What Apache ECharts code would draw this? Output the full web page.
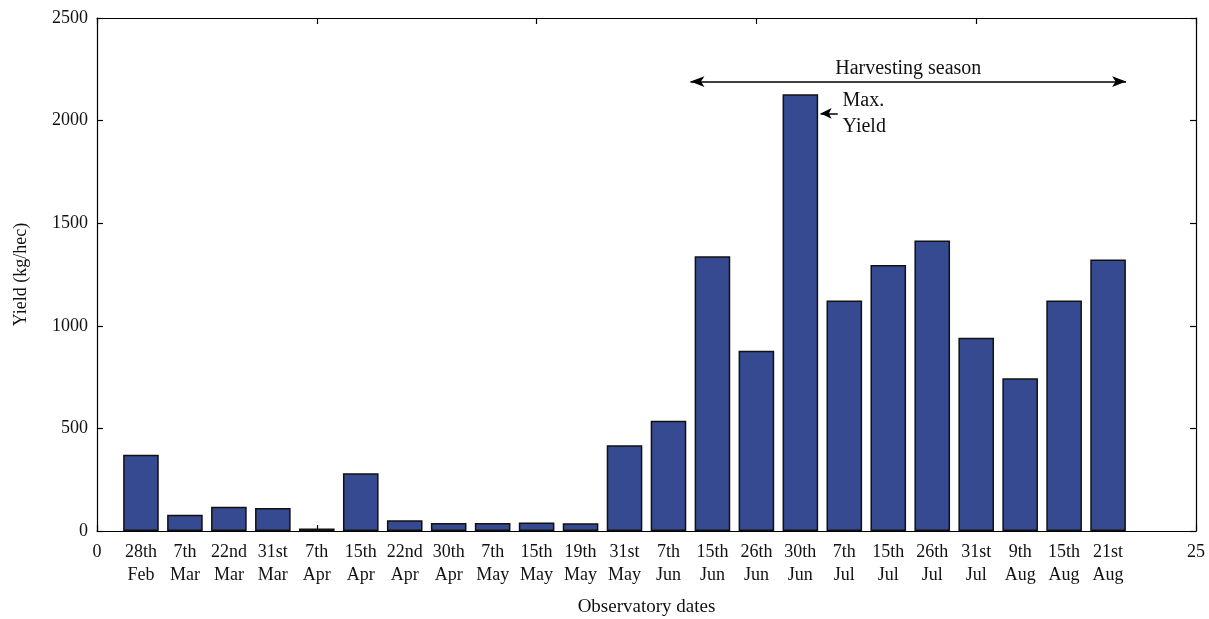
<!DOCTYPE html>
<html>
<head>
<meta charset="utf-8">
<script src="https://cdn.jsdelivr.net/npm/echarts@6/dist/echarts.min.js"></script>
<style>html,body{margin:0;padding:0;background:#fff;}#c{width:1209px;height:619px;}</style>
</head>
<body>
<div id="c"></div>
<script>
const categories = ["28th\nFeb","7th\nMar","22nd\nMar","31st\nMar","7th\nApr","15th\nApr","22nd\nApr","30th\nApr","7th\nMay","15th\nMay","19th\nMay","31st\nMay","7th\nJun","15th\nJun","26th\nJun","30th\nJun","7th\nJul","15th\nJul","26th\nJul","31st\nJul","9th\nAug","15th\nAug","21st\nAug"];
const yieldValues = [372, 79, 118, 112, 12, 281, 52, 39, 39, 42, 38, 418, 537, 1339, 878, 2128, 1123, 1296, 1416, 942, 745, 1123, 1323];
const xTickValues = [0, 5, 10, 15, 20, 25];
const yTickValues = [0, 500, 1000, 1500, 2000, 2500];
const harvestStart = 13.5, harvestEnd = 23.41, harvestY = 2190;
const maxArrowFrom = 16.85, maxArrowTo = 16.46, maxArrowY = 2035;

const FONT = "Liberation Serif";
const barData = yieldValues.map((v, i) => [i + 1, v]);
const labelValues = [0].concat(categories.map((c, i) => i + 1)).concat([25]);
function xLabel(v) {
  if (v === 0 || v === 25) return String(v);
  return categories[v - 1] || "";
}
const chart = echarts.init(document.getElementById('c'), null, {renderer: 'canvas'});
const axisLine = {show: true, onZero: false, lineStyle: {color: '#000', width: 1.2}};
const tickStyle = {color: '#000', width: 1.2};
chart.setOption({
  animation: false,
  grid: {left: 97, right: 13, top: 18, bottom: 88, containLabel: false, outerBoundsMode: 'none'},
  xAxis: [{
    type: 'value', min: 0, max: 25, interval: 1, position: 'bottom',
    axisLine: axisLine,
    axisTick: {show: true, inside: true, length: 6, customValues: xTickValues, lineStyle: tickStyle},
    axisLabel: {customValues: labelValues, formatter: xLabel, color: '#111', fontFamily: FONT, fontSize: 18, lineHeight: 23, margin: 10},
    splitLine: {show: false},
    name: 'Observatory dates', nameLocation: 'middle', nameGap: 67,
    nameTextStyle: {fontFamily: FONT, fontSize: 19, color: '#111'}
  }, {
    type: 'value', min: 0, max: 25, interval: 1, position: 'top',
    axisLine: axisLine,
    axisTick: {show: true, inside: true, length: 6, customValues: xTickValues, lineStyle: tickStyle},
    axisLabel: {show: false}, splitLine: {show: false}
  }],
  yAxis: [{
    type: 'value', min: 0, max: 2500, interval: 500, position: 'left',
    axisLine: axisLine,
    axisTick: {show: true, inside: true, length: 6, customValues: yTickValues, lineStyle: tickStyle},
    axisLabel: {color: '#111', fontFamily: FONT, fontSize: 18, margin: 9, formatter: v => String(v)},
    splitLine: {show: false},
    name: 'Yield (kg/hec)', nameLocation: 'middle', nameGap: 67, nameRotate: 90,
    nameTextStyle: {fontFamily: FONT, fontSize: 18, color: '#111'}
  }, {
    type: 'value', min: 0, max: 2500, interval: 500, position: 'right',
    axisLine: axisLine,
    axisTick: {show: true, inside: true, length: 6, customValues: yTickValues, lineStyle: tickStyle},
    axisLabel: {show: false}, splitLine: {show: false}
  }],
  series: [{
    type: 'bar', xAxisIndex: 0, yAxisIndex: 0,
    data: barData, barWidth: '81%',
    itemStyle: {color: '#354a90', borderColor: '#111', borderWidth: 1.5},
    markLine: {
      silent: true, animation: false,
      lineStyle: {color: '#000', width: 1.5, type: 'solid'},
      data: [
        [{coord: [harvestStart, harvestY], symbol: 'arrow', symbolSize: [8, 14], symbolRotate: 90},
         {coord: [harvestEnd, harvestY], symbol: 'arrow', symbolSize: [8, 14], symbolRotate: -90,
          label: {show: true, position: 'middle', formatter: 'Harvesting season', fontFamily: FONT, fontSize: 20, color: '#111', distance: 3}}],
        [{coord: [maxArrowFrom, maxArrowY], symbol: 'none'},
         {coord: [maxArrowTo, maxArrowY], symbol: 'arrow', symbolSize: [8, 11], symbolRotate: 90, label: {show: false}}]
      ],
      label: {show: false}
    },
    markPoint: {
      silent: true, animation: false,
      symbol: 'circle', symbolSize: 0,
      data: [{coord: [16.96, maxArrowY],
        label: {show: true, position: 'right', distance: 0, formatter: 'Max.\nYield', fontFamily: FONT, fontSize: 20, lineHeight: 26, color: '#111', align: 'left'}}]
    }
  }]
});
</script>
</body>
</html>
